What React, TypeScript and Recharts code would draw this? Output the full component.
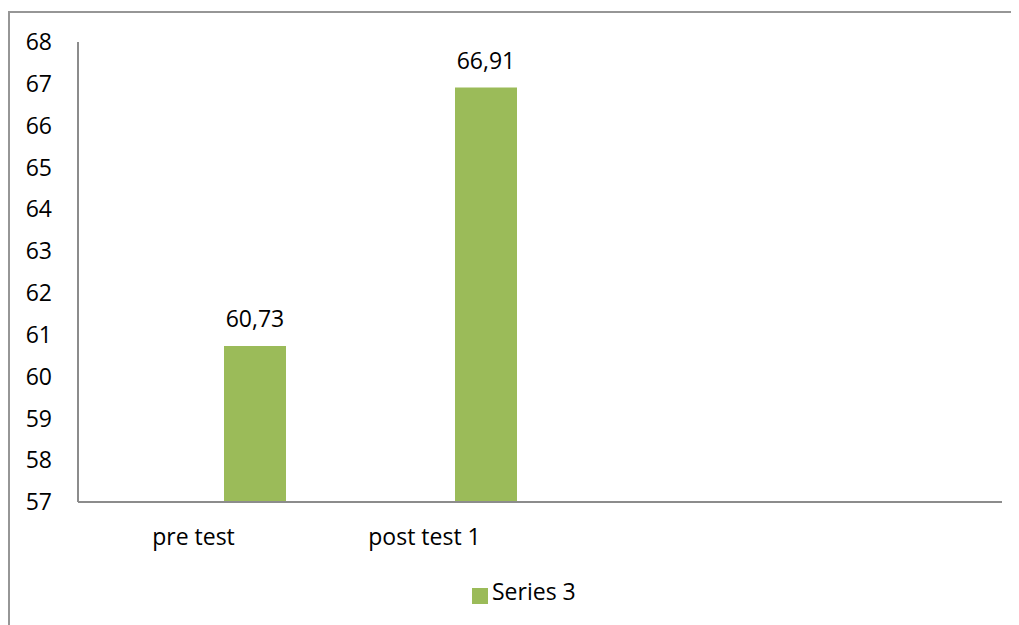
import { BarChart, Bar, XAxis, YAxis, Legend, LabelList } from 'recharts'

const categories = ['pre test', 'post test 1', '', '']
const series1: (number | null)[] = [null, null, null, null]
const series2: (number | null)[] = [null, null, null, null]
const series3: (number | null)[] = [60.73, 66.91, null, null]
const yTicks = [57, 58, 59, 60, 61, 62, 63, 64, 65, 66, 67, 68]

const data = categories.map((name, i) => ({
  name,
  s1: series1[i],
  s2: series2[i],
  s3: series3[i],
}))

const FONT = '"Open Sans", sans-serif'
const AXIS = '#8c8c8c'
const GREEN = '#9bbb59'

function fmt(v: unknown) {
  if (typeof v !== 'number') return ''
  return v.toFixed(2).replace('.', ',')
}

export default function App() {
  return (
    <div style={{ position: 'relative', width: 1011, height: 617, overflow: 'hidden', fontFamily: FONT }}>
      <div
        style={{
          position: 'absolute',
          top: 3,
          left: 0,
          width: 1100,
          height: 700,
          border: '2px solid #969696',
          boxSizing: 'border-box',
        }}
      />
      <div style={{ position: 'absolute', top: 0, left: 0 }}>
        <BarChart
          width={1011}
          height={617}
          data={data}
          margin={{ top: 34, right: 17, bottom: 0, left: 20 }}
          barCategoryGap={22}
          barGap={0}
        >
          <XAxis
            dataKey="name"
            axisLine={{ stroke: AXIS, strokeWidth: 2 }}
            tickLine={false}
            tickSize={0}
            tickMargin={27}
            height={70}
            interval={0}
            tick={{ fill: '#000', fontSize: 23, fontFamily: FONT }}
          />
          <YAxis
            domain={[57, 68]}
            ticks={yTicks}
            interval={0}
            width={50}
            axisLine={{ stroke: AXIS, strokeWidth: 2 }}
            tickLine={false}
            tickSize={0}
            tickMargin={26}
            tick={{ fill: '#000', fontSize: 23, fontFamily: FONT }}
          />
          <Legend
            verticalAlign="bottom"
            height={53}
            iconType="square"
            iconSize={16}
            wrapperStyle={{ left: 464, width: 'auto', height: 53, paddingTop: 3, boxSizing: 'border-box' }}
            formatter={(value) => <span style={{ color: '#000', fontSize: 23, fontFamily: FONT }}>{value}</span>}
          />
          <Bar dataKey="s1" name="Series 1" fill="#4f81bd" legendType="none" isAnimationActive={false} />
          <Bar dataKey="s2" name="Series 2" fill="#c0504d" legendType="none" isAnimationActive={false} />
          <Bar dataKey="s3" name="Series 3" fill={GREEN} isAnimationActive={false}>
            <LabelList
              dataKey="s3"
              position="top"
              offset={19}
              formatter={fmt}
              style={{ fill: '#000', fontSize: 23, fontFamily: FONT }}
            />
          </Bar>
        </BarChart>
      </div>
    </div>
  )
}
